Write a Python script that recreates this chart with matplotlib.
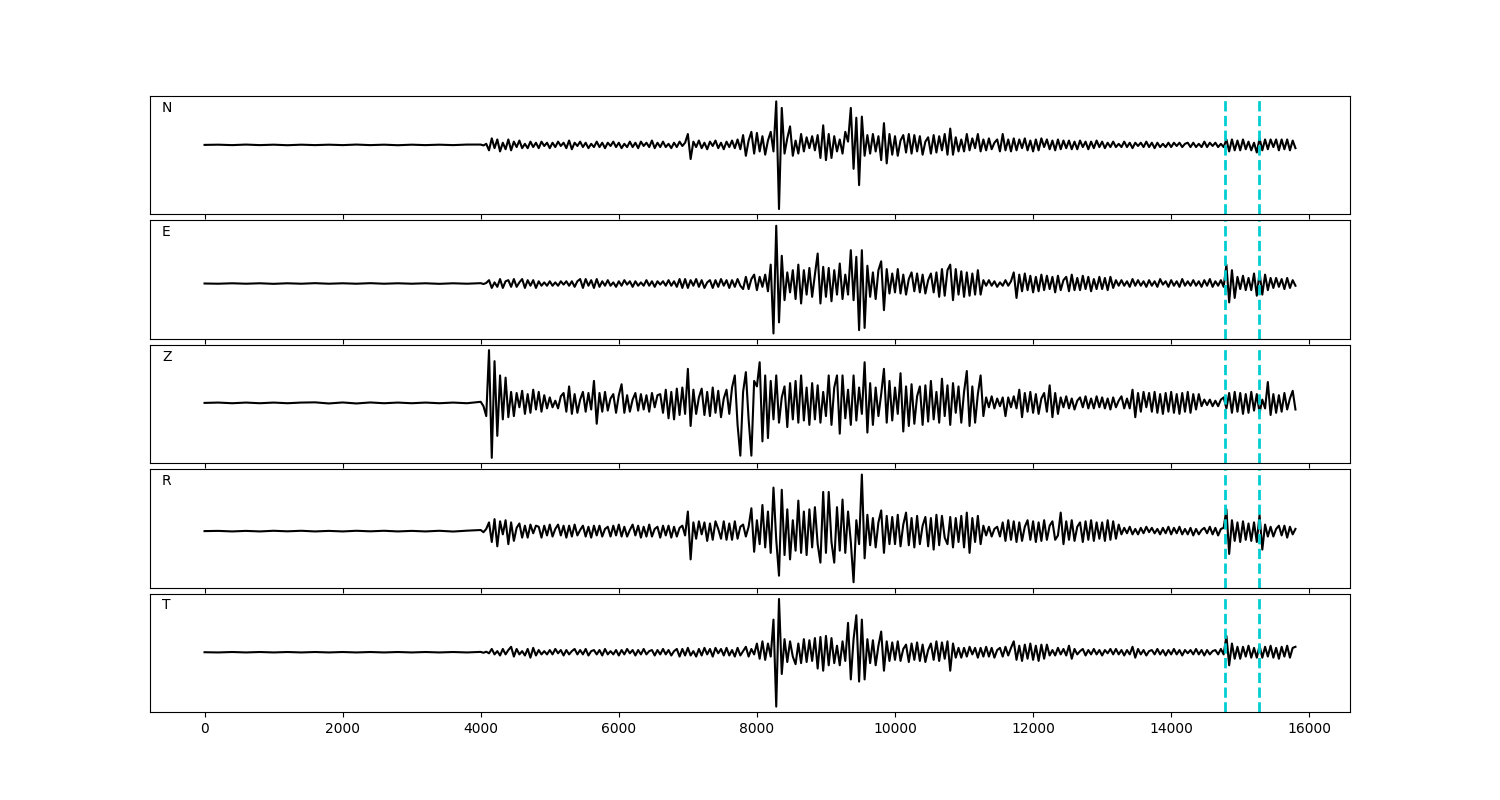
import matplotlib.pyplot as plt
import numpy as np

components = ["N", "E", "Z", "R", "T"]
picks = [14780, 15270]

# pre-event noise, one value every 200 samples from 0
quiet_N = [0, 0.2, -0.2, 0.3, -0.2, 0.2, -0.3, 0.2, -0.2, 0.2, -0.2, 0.3, -0.2, 0.2, -0.3, 0.2, -0.2, 0.2, -0.2, 0.3]
quiet_E = [0, -0.2, 0.2, -0.2, 0.2, -0.3, 0.2, -0.2, 0.3, -0.2, 0.2, -0.2, 0.3, -0.2, 0.2, -0.2, 0.2, -0.3, 0.2, -0.2]
quiet_Z = [0, 0.3, -0.3, 0.3, -0.3, 0.3, -0.3, 0.3, 0.5, -0.5, 0.4, -0.5, 0.4, -0.3, 0.3, -0.3, 0.3, -0.3, 0.3, -0.3]
quiet_R = [0, 0.2, -0.3, 0.2, -0.3, 0.3, -0.2, 0.3, -0.3, 0.2, -0.3, 0.3, -0.2, 0.3, -0.3, 0.2, -0.3, 0.3, -0.4, 0.4]
quiet_T = [0, -0.2, 0.2, -0.2, 0.2, -0.2, 0.2, -0.2, 0.2, -0.2, 0.2, -0.2, 0.2, -0.2, 0.2, -0.2, 0.2, -0.2, 0.2, -0.2]

# waveform extremes, one value every 40 samples from 4000 (rows = 1000 samples)
wave_N = [
    0.3, -0.5, 1, -5, 6, -3, 5, -6, 2, -4, 5, -5, 3, -2, 4, -3, 1, -3, 3, -2, 2, -3, 3, -1, 2,
    -3, 2, -2, 3, -1, 2, -3, 4, -4, 2, -1, 3, -2, 2, -3, 1, -2, 3, -2, 2, -3, 2, -1, 3, -2,
    2, -3, 1, -2, 3, -2, 2, -3, 3, -1, 2, -2, 4, -3, 2, -2, 3, -2, 1, -3, 2, -2, 3, -1, 2,
    10, -13, 3, -2, 4, -3, 2, -4, 3, -1, 4, -3, 2, -4, 3, -2, 4, -3, 5, -4, 9, -10, 4, 12, -8,
    11, -6, 8, -9, 4, 12, -6, 40, -59, 34, -8, 6, 17, -10, 4, -8, 10, -6, 7, -3, 8, -5, 9, -12, 18,
    -14, 10, -12, 8, -6, 5, -8, 12, 3, 34, -22, 25, -37, 26, -10, 9, -8, 10, -6, 8, -14, 20, -17, 10, -9,
    8, -10, 4, 9, -7, 10, -8, 9, -6, 8, -9, 3, 7, -8, 9, -7, 8, -5, 10, -9, 15, -9, 7, -6, 5,
    -6, 10, -5, 6, -3, 10, -6, 5, -5, 6, -4, 2, 5, -6, 10, -5, 5, -6, 6, -5, 5, -3, 6, -5, 4,
    -6, 5, -5, 6, -2, 5, -4, 4, -5, 5, -4, 4, -3, 4, -4, 3, -4, 4, -2, 3, -4, 3, -3, 4, -2,
    3, -3, 2, -2, 3, -2, 1, -2, 3, -2, 2, -3, 2, -1, 2, -2, 3, -2, 2, -3, 2, -2, 1, -2, 2,
    -2, 2, -1, 2, -2, 1, 2, -2, 2, -2, 1, -2, 3, -2, 2, -1, 2, -2, 1, -2, 5, -6, 5, -5, 4,
    -5, 5, -4, 3, -5, 2, -7, 6, -5, 5, -4, 5, -2, 5, -5, 5, -4, 5, -5, 4, -3,
]
wave_E = [
    0.3, -0.5, 0.5, 3, -4, 1, -3, 4, -4, 2, 3, -3, 4, -3, 1, 4, -4, 3, -2, 3, -4, 2, -2, 1, -2,
    2, -2, 1, -2, 2, -1, 2, -2, 2, -3, 2, 4, -4, 4, -2, 3, -4, 4, -3, 2, -2, 3, -2, 1, -3,
    2, -2, 3, -1, 2, -3, 2, -2, 1, -2, 3, -2, 2, -3, 2, -1, 2, -2, 3, -2, 2, -3, 4, -4, 4,
    -4, 3, -2, 4, -3, 3, -4, 1, 3, -4, 3, -3, 4, -2, 3, -4, 3, -3, 4, -2, -5, 6, -5, 4, 8,
    -6, 6, -3, 8, -7, 17, -45, 52, -35, 25, -15, 10, -8, 12, -14, 17, -18, 12, -10, 14, -12, 8, 27, -18, 15,
    -12, 14, -16, 12, -10, 18, -14, 8, -10, 30, -15, 24, -42, 30, -40, 16, -12, 10, -14, 12, 20, -24, 13, -9, 9,
    -8, 13, -9, 8, -10, 4, 10, -7, 9, -8, 8, -9, 3, 9, -8, 10, -12, 13, -11, 12, 17, -15, 13, -10, 11,
    -12, 10, -11, 9, -10, 12, -10, 3, -2, 3, -2, 2, -3, 1, -2, 3, -2, 2, 10, -13, 8, -7, 9, -6, 7,
    -8, 6, -7, 8, -6, 7, -5, 6, -8, 7, -6, 3, 6, -7, 8, -6, 5, -6, 7, -5, 6, -7, 4, -5, 6,
    -5, 5, -6, 6, -4, 3, -2, 3, -2, 2, -3, 4, -2, 3, -2, 2, -3, 3, -2, 2, -3, 4, -1, 2, -3,
    3, -2, 2, -3, 4, -2, 2, -2, 3, -2, 2, -3, 3, -2, 4, -3, 2, -2, 3, -3, 17, -17, 12, -13, 6,
    -5, 7, -6, 5, -6, 9, -11, 10, -10, 8, -6, 5, -4, 5, -3, 4, -5, 5, -4, 3, -2,
]
wave_Z = [
    1, -3, -12, 48, -50, 38, -30, 25, -15, 23, -13, 10, -12, 9, -4, 11, -10, 8, -9, 12, -6, 10, -8, 7, -5,
    5, -4, 2, -5, 6, 9, -8, 15, -10, 8, -9, 3, 10, -8, 9, -6, 20, -19, 9, -8, 10, -7, 4, 8, -9,
    7, 17, -9, 7, -8, 3, 9, -7, 8, -6, 7, -8, 9, -4, 7, 8, -9, 12, -14, 10, -15, 13, -11, 14, -10,
    31, -21, 12, -10, 5, 13, -11, 10, -12, 14, -9, 11, -13, 4, 12, -10, 14, 25, -20, -48, 10, 28, -15, -48, 20,
    15, 37, -35, 25, -32, 20, -15, 25, -18, 5, 15, -22, 18, -15, 20, -18, 25, -16, 14, -20, 18, -15, 16, -18, 10,
    -12, 25, -20, 14, 25, -28, 25, -14, 12, -20, 25, -16, 14, -10, 37, -27, 18, -20, 14, -12, 8, 31, -18, 20, -16,
    14, -10, 27, -26, 15, -21, 17, -19, 6, 15, -20, 16, -17, 20, -15, 10, -18, 22, -12, 16, -20, 18, -9, 15, -18,
    10, 29, -21, 15, -18, 8, 25, -12, 5, -4, 6, -5, 4, -3, 5, -12, 5, -4, 6, -5, 12, -13, 9, -8, 10,
    -9, 8, -10, 4, 9, -8, 16, -13, 9, -10, 5, -4, 6, -5, 4, -6, 2, 5, -4, 6, -5, 4, -5, 6, -4,
    5, -5, 4, -6, 5, -4, 2, 6, -5, 4, -5, 12, -13, 9, -8, 10, -4, 9, -8, 10, -9, 8, -10, 9, -8,
    10, -9, 8, -10, 9, -8, 10, -9, 8, -6, 8, -3, 3, -2, 3, -3, 2, -3, 3, 5, -5, 9, -9, 10, -8,
    9, -10, 8, -9, 10, -7, 8, -9, 3, -5, 19, -11, 8, -9, 7, -8, 9, -6, 4, 11, -6,
]
wave_R = [
    1, -1, 2, 8, -10, 11, -14, 9, -3, 10, -12, 8, -9, 3, 7, -6, 5, -6, 6, -2, 5, 4, -6, 5, -4,
    6, -5, 2, 6, -4, 5, -6, 5, -5, 6, -4, 1, 5, -5, 4, -6, 5, -4, 5, -5, 2, 4, -5, 5, -4,
    6, -5, 4, -5, 1, 6, -4, 5, -6, 4, -5, 6, -5, 2, 4, -6, 5, -4, 5, -6, 4, -5, 3, 5, -4,
    18, -26, 8, -7, 9, -3, 8, -9, 7, -8, 9, 2, -7, 9, -8, 7, -8, 9, -7, 4, 6, -5, 4, 21, -19,
    10, -12, 24, -15, 18, -20, 40, -8, -41, 38, -22, 20, -26, 10, -18, 28, -20, 18, -22, 20, -15, 22, -12, -29, 36,
    -20, 36, -10, -29, 22, -18, 29, -20, 18, -10, -47, 10, -12, 52, -25, 15, -13, 12, -15, 8, 19, -20, 14, -12, 13,
    -12, 15, -14, 6, 17, -13, 12, -15, 14, -12, 5, 13, -14, 12, -17, 15, -13, 14, -6, -12, 13, -15, 12, -10, 14,
    -15, 17, -20, 12, -10, 14, -12, 5, -4, 4, -5, 2, 4, -5, 8, -9, 10, -8, 9, -10, 8, -9, 4, 10, -8,
    9, -10, 8, -9, 10, -8, 5, 9, -8, -4, 17, -12, 9, -8, 10, -9, 4, 8, -10, 9, -8, 10, -9, 8, -7,
    8, -9, 10, -8, 9, -7, 6, -3, 3, -2, 4, -3, 2, -3, 3, -2, 4, -1, 3, -2, 2, -3, 3, -2, 4,
    -3, 3, -2, 4, -3, 2, -3, 3, -4, 2, -3, 1, 3, -2, 4, -3, 3, -4, 2, 3, 20, -21, 10, -9, 8,
    -10, 9, -8, 7, -9, 8, -10, 15, -17, 6, -5, 4, -5, 2, 5, -4, 5, -6, 4, -3, 2,
]
wave_T = [
    0.3, -0.5, 0.5, -1, 3, -2, 1, -3, 3, -2, 2, 5, -4, 3, -2, 1, -3, 3, -5, 4, -3, 2, -2, 1, -2,
    2, -2, 3, -1, 2, -3, 2, -2, 1, 3, -2, 2, -2, 3, -3, 1, 2, -2, 2, -3, 3, -2, 1, -2, 2,
    -3, 2, -2, 3, -1, 2, -3, 2, -2, 3, -2, 1, 2, -3, 2, -2, 3, -2, 2, -3, 1, 3, -4, 3, -3,
    4, -3, 1, -4, 3, -3, 4, -2, 3, -4, 4, -1, 3, -3, 4, -3, 2, -4, 4, -3, 1, 5, -4, 3, -2,
    8, -6, 10, -7, 8, -4, 30, -50, 49, -20, 12, -9, 10, -4, -11, 8, -10, 12, -9, 11, -8, 13, -15, 14, -17,
    15, -12, 13, -10, 6, -12, 10, -8, 27, -25, 12, 34, -27, 30, -25, 12, -10, 11, -12, 6, 19, -17, 10, -8, 9,
    -7, 10, -8, 3, 7, -9, 8, -7, 9, -8, 7, -9, 2, 8, -7, 10, -8, 9, -6, 10, -17, 8, -5, 4, -5,
    4, -4, 5, -2, 4, -5, 4, -4, 5, -4, 4, -5, 2, 4, -4, 5, -3, 4, 10, -7, 6, -8, 7, -6, 8,
    -7, 6, -8, 7, -6, 7, -3, 2, -3, 4, -2, 3, -3, 6, -6, 3, -2, 1, 3, -3, 2, -2, 3, -2, 2,
    -3, 2, -1, 3, -2, 3, -2, 2, -3, 2, -2, 5, -5, 3, -2, 2, -3, 1, 2, -2, 3, -2, 2, -3, 2,
    -2, 3, -2, 2, -3, 2, -1, 2, -2, 3, -2, 2, -3, 2, -2, 1, 2, -2, 3, -2, 15, -12, 8, -6, 5,
    -6, 5, -4, 6, -5, 4, -5, 6, -5, 5, -4, 6, -5, 4, -6, 5, -4, 6, -5, 4, 5,
]

quiet = [quiet_N, quiet_E, quiet_Z, quiet_R, quiet_T]
waves = [wave_N, wave_E, wave_Z, wave_R, wave_T]

fig, axes = plt.subplots(5, 1, figsize=(15, 8), sharex=True)
fig.subplots_adjust(left=0.1, right=0.9, top=0.88, bottom=0.11, hspace=0.05)

for ax, name, q, w in zip(axes, components, quiet, waves):
    t = np.concatenate([np.arange(len(q)) * 200, 4000 + np.arange(len(w)) * 40])
    y = np.concatenate([q, w])
    ax.plot(t, y, color="black", lw=1.5)
    for p in picks:
        ax.axvline(p, color="darkturquoise", ls="--", lw=2)
    ax.set_yticks([])
    ax.text(0.01, 0.9, name, transform=ax.transAxes, va="center", fontsize=10)

plt.savefig("out.png", dpi=100)
